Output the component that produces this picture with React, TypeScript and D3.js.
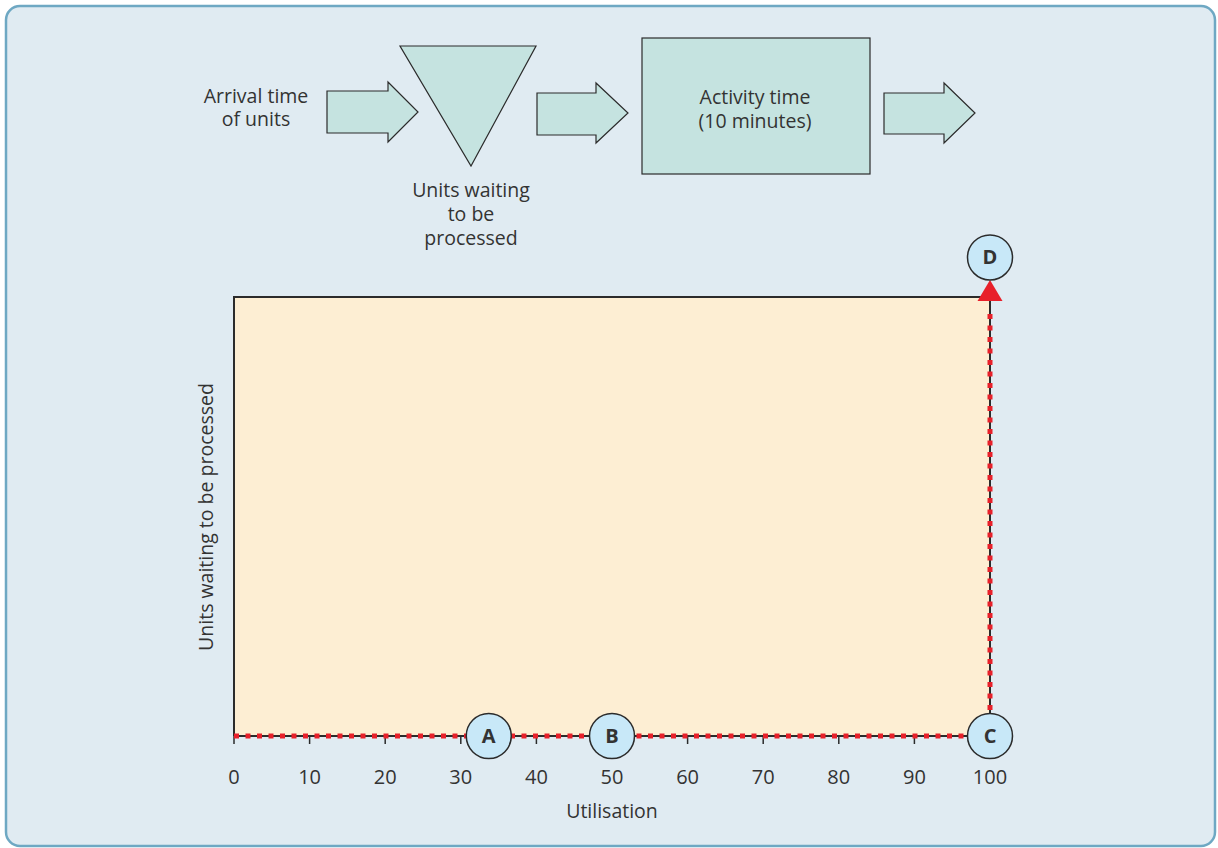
import React from "react";
import * as d3 from "d3";

const xTicks = [0, 10, 20, 30, 40, 50, 60, 70, 80, 90, 100];
const pointLabels = ["A", "B", "C", "D"];
const pointX = [33.7, 50, 100, 100];
const pointY = [0, 0, 0, 109];
const pathX = [0, 100, 100];
const pathY = [0, 0, 97];
const xAxisLabel = "Utilisation";
const yAxisLabel = "Units waiting to be processed";

const W = 1218;
const H = 848;
const FONT = "'Open Sans', 'Noto Sans', sans-serif";
const TXT = "#333";
const FS = 19.5;

export default function App() {
  const x = d3.scaleLinear().domain([0, 100]).range([234, 990]);
  const y = d3.scaleLinear().domain([0, 100]).range([736, 297]);
  const line = d3.line<number>().x((d, i) => x(pathX[i])).y((d, i) => y(pathY[i]));
  const pathD = line(pathX) || "";

  const arrow = (x0: number, x1: number, x2: number, yt: number, yb: number, ht: number, hb: number, ym: number) =>
    `M${x0},${yt}L${x1},${yt}L${x1},${ht}L${x2},${ym}L${x1},${hb}L${x1},${yb}L${x0},${yb}Z`;

  const diagFill = "#c5e3e0";
  const diagStroke = "#2b2b2b";

  return (
    <svg width={W} height={H} style={{ position: "absolute", left: 0, top: 0 }} fontFamily={FONT}>
      <rect x={6} y={6} width={1209} height={840} rx={14} ry={14} fill="#e0ebf2" stroke="#6ea8c3" strokeWidth={2.5} />

      {/* Top process diagram */}
      <text x={256} y={103} textAnchor="middle" fontSize={FS} fill={TXT}>Arrival time</text>
      <text x={256} y={126} textAnchor="middle" fontSize={FS} fill={TXT}>of units</text>
      <path d={arrow(327, 388, 418, 91, 133, 82, 142, 112)} fill={diagFill} stroke={diagStroke} strokeWidth={1.2} />
      <path d="M400,46L536,46L471,166Z" fill={diagFill} stroke={diagStroke} strokeWidth={1.2} />
      <path d={arrow(537, 596, 628, 93, 135, 83, 143, 113)} fill={diagFill} stroke={diagStroke} strokeWidth={1.2} />
      <text x={471} y={197} textAnchor="middle" fontSize={FS} fill={TXT}>Units waiting</text>
      <text x={471} y={221} textAnchor="middle" fontSize={FS} fill={TXT}>to be</text>
      <text x={471} y={245} textAnchor="middle" fontSize={FS} fill={TXT}>processed</text>
      <rect x={642} y={38} width={228} height={136} fill={diagFill} stroke={diagStroke} strokeWidth={1.2} />
      <text x={755} y={104} textAnchor="middle" fontSize={FS} fill={TXT}>Activity time</text>
      <text x={755} y={128} textAnchor="middle" fontSize={FS} fill={TXT}>(10 minutes)</text>
      <path d={arrow(884, 944, 975, 93, 134, 83, 143, 113)} fill={diagFill} stroke={diagStroke} strokeWidth={1.2} />

      {/* Plot area */}
      <rect x={x(0)} y={y(100)} width={x(100) - x(0)} height={y(0) - y(100)} fill="#fdeed3" />
      <path d={`M${x(0)},${y(0)}L${x(0)},${y(100)}L${x(100)},${y(100)}`} fill="none" stroke="#2b2b2b" strokeWidth={2} />
      <line x1={x(0)} x2={x(100)} y1={y(0)} y2={y(0)} stroke="#2b2b2b" strokeWidth={2} />
      <line x1={x(100)} x2={x(100)} y1={y(0)} y2={y(100)} stroke="#2b2b2b" strokeWidth={2} />
      {xTicks.map((t) => (
        <g key={t}>
          <line x1={x(t)} x2={x(t)} y1={y(0)} y2={y(0) + 8} stroke="#2b2b2b" strokeWidth={1.5} />
          <text x={x(t)} y={784} textAnchor="middle" fontSize={20} fill={TXT}>{t}</text>
        </g>
      ))}
      <text x={612} y={818} textAnchor="middle" fontSize={FS} fill={TXT}>{xAxisLabel}</text>
      <text transform={`translate(213,517) rotate(-90)`} textAnchor="middle" fontSize={FS} fill={TXT}>{yAxisLabel}</text>

      {/* Red dotted path */}
      <path d={pathD} fill="none" stroke="#e8202a" strokeWidth={5} strokeDasharray="5 6.5" />
      <path d={`M${x(100)},${y(100) - 17}L${x(100) - 12.5},${y(100) + 4}L${x(100) + 12.5},${y(100) + 4}Z`} fill="#e8202a" />

      {/* Points */}
      {pointLabels.map((lab, i) => (
        <g key={lab}>
          <circle cx={x(pointX[i])} cy={y(pointY[i])} r={22.5} fill="#c8e8f8" stroke="#2b2b2b" strokeWidth={1.5} />
          <text x={x(pointX[i])} y={y(pointY[i]) + 7} textAnchor="middle" fontSize={20} fontWeight="bold" fill={TXT}>{lab}</text>
        </g>
      ))}
    </svg>
  );
}
